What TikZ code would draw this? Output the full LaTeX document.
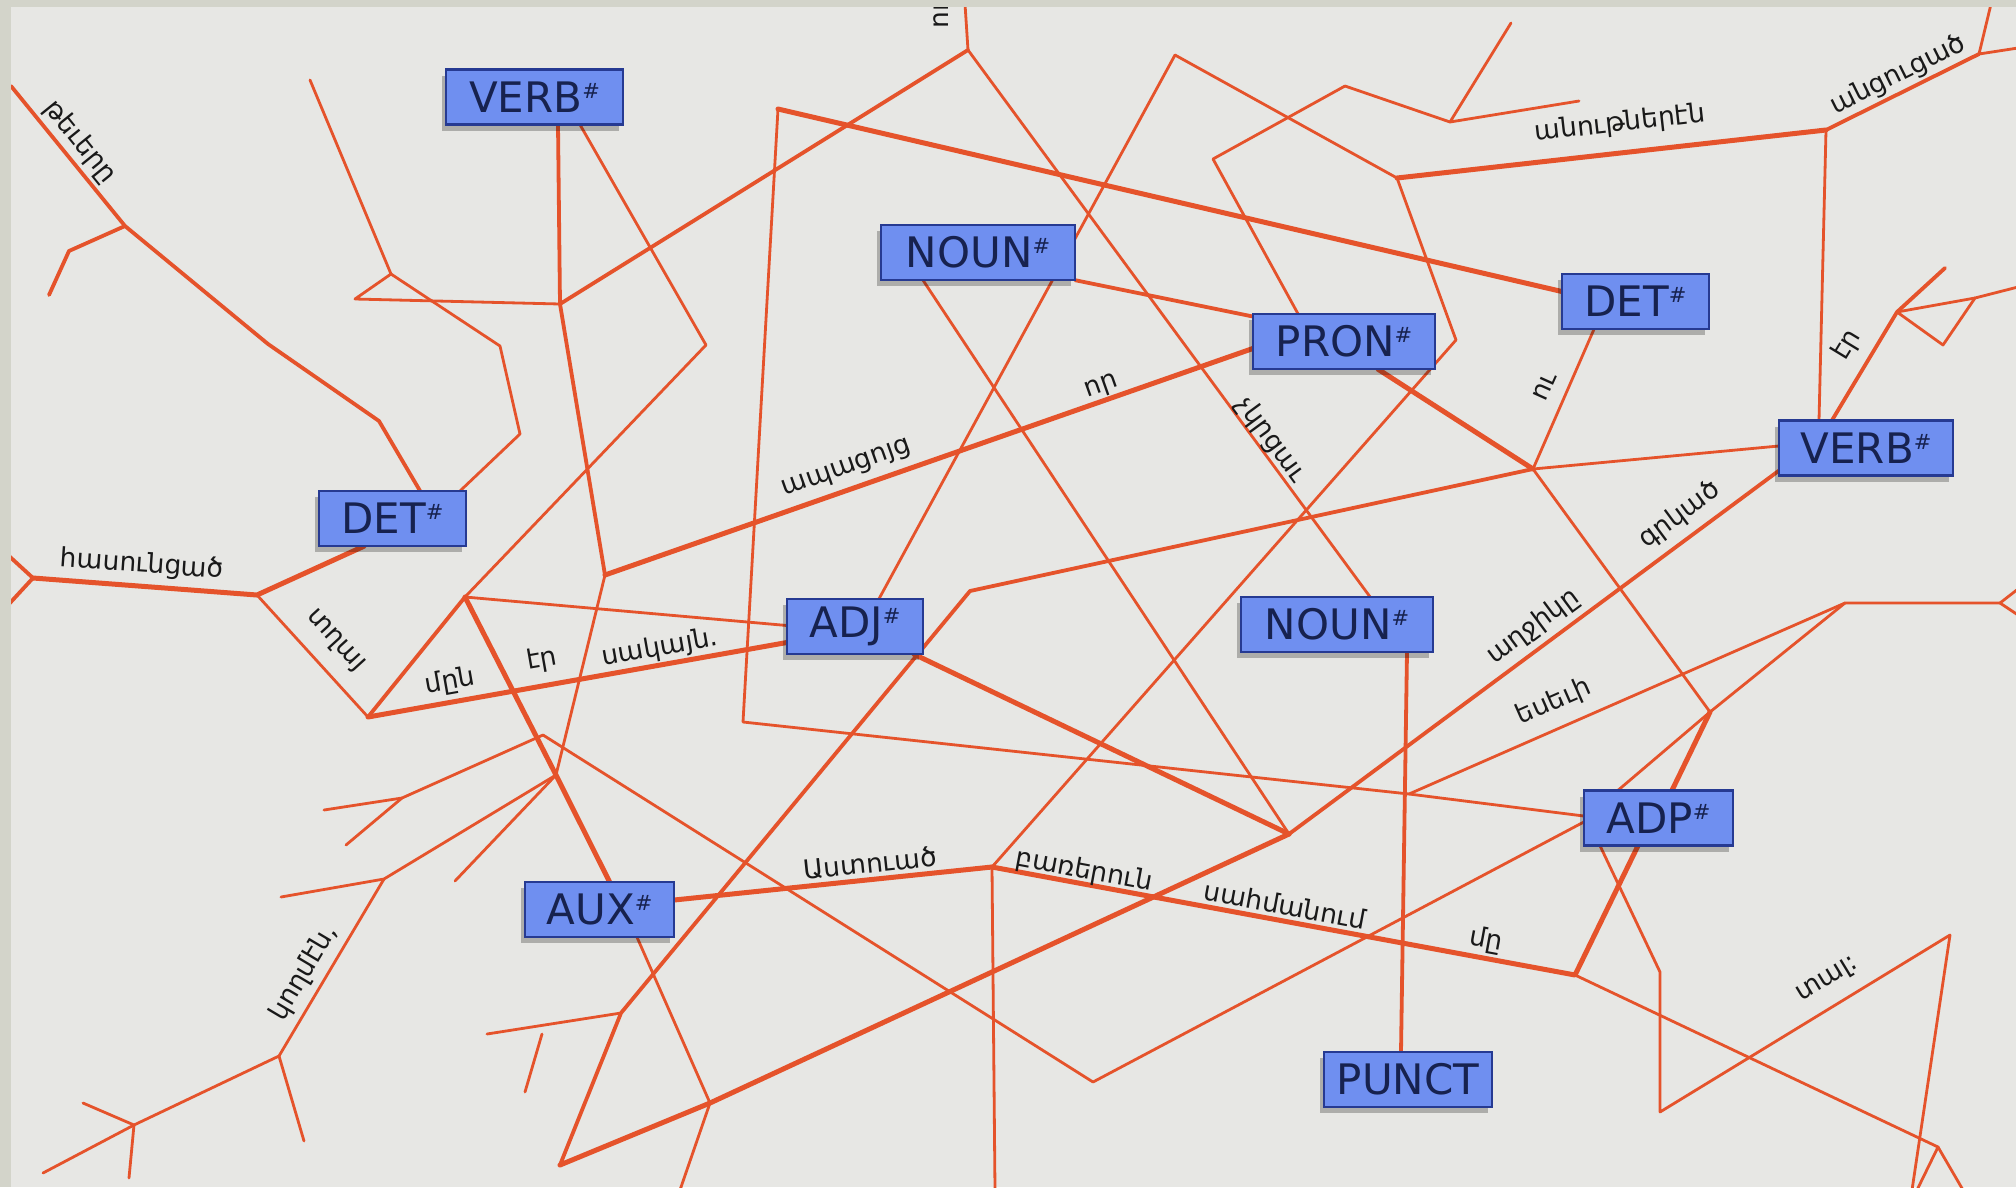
\documentclass[tikz,border=0pt]{standalone}
\usepackage{fontspec}
\setmainfont{DejaVu Sans}
\usetikzlibrary{shadows}
\definecolor{paper}{HTML}{E7E7E4}
\definecolor{strip}{HTML}{D3D4CA}
\definecolor{lineor}{HTML}{E5532B}
\definecolor{boxfill}{HTML}{6F8FF0}
\definecolor{boxborder}{HTML}{263A92}
\definecolor{boxtext}{HTML}{17224F}
\newcommand\mysharp{\raisebox{14pt}{\fontsize{21}{21}\selectfont\#}}
\begin{document}
\begin{tikzpicture}[x=1pt,y=-1pt,
  ln/.style={draw=lineor, line cap=round, line join=round},
  thk/.style={ln, line width=5pt},
  mid/.style={ln, line width=3.8pt},
  thn/.style={ln, line width=2.8pt},
  box/.style={draw=boxborder, line width=2.4pt, fill=boxfill, text=boxtext,
    minimum height=55pt, inner sep=0pt, font=\fontsize{42}{42}\selectfont,
    drop shadow={shadow xshift=-4pt, shadow yshift=-6pt, opacity=0.25, fill=black}},
  lab/.style={font=\fontsize{26.5}{26.5}\selectfont, text=black!90, inner sep=0pt}]
\useasboundingbox (0,0) rectangle (2016,1187);
\fill[paper] (0,0) rectangle (2016,1187);

\coordinate (c1) at (11,86);
\coordinate (c2) at (125,226);
\coordinate (c3) at (268,344);
\coordinate (c4) at (379,421);
\coordinate (c5) at (69,251);
\coordinate (c6) at (49,295);
\coordinate (c7) at (310,80);
\coordinate (c8) at (391,274);
\coordinate (c9) at (355,299);
\coordinate (c10) at (560,304);
\coordinate (c11) at (500,346);
\coordinate (c12) at (520,434);
\coordinate (c13) at (605,575);
\coordinate (c14) at (556,775);
\coordinate (a1) at (968,50);
\coordinate (a1t) at (965,4);
\coordinate (c15) at (706,345);
\coordinate (a6) at (465,597);
\coordinate (c17) at (368,717);
\coordinate (c18) at (257,595);
\coordinate (f1) at (33,578);
\coordinate (f1a) at (9,556);
\coordinate (f1b) at (9,604);
\coordinate (c19) at (384,879);
\coordinate (c20) at (281,897);
\coordinate (c21) at (279,1056);
\coordinate (c22) at (134,1125);
\coordinate (c23) at (43,1173);
\coordinate (c21a) at (304,1141);
\coordinate (c22a) at (83,1103);
\coordinate (c22b) at (129,1178);
\coordinate (c14a) at (455,881);
\coordinate (a7) at (543,735);
\coordinate (c24) at (402,798);
\coordinate (c24a) at (324,810);
\coordinate (c24b) at (346,845);
\coordinate (c25) at (1093,1082);
\coordinate (a2) at (778,109);
\coordinate (c26) at (743,722);
\coordinate (c27) at (1409,794);
\coordinate (a3) at (1175,55);
\coordinate (j) at (1397,178);
\coordinate (c28) at (1456,340);
\coordinate (b) at (992,867);
\coordinate (bb) at (995,1190);
\coordinate (c29) at (1826,130);
\coordinate (c30) at (1979,54);
\coordinate (c30a) at (1991,4);
\coordinate (c30b) at (2018,48);
\coordinate (p) at (1897,312);
\coordinate (p1) at (1945,268);
\coordinate (p2) at (1943,345);
\coordinate (p3) at (1975,298);
\coordinate (p4) at (2018,287);
\coordinate (a4) at (1345,86);
\coordinate (c31) at (1450,122);
\coordinate (c31a) at (1511,23);
\coordinate (c31b) at (1579,101);
\coordinate (c32) at (1213,159);
\coordinate (a8) at (1289,834);
\coordinate (c33) at (710,1103);
\coordinate (c34) at (560,1165);
\coordinate (c33a) at (680,1190);
\coordinate (k) at (1533,469);
\coordinate (a5) at (970,591);
\coordinate (c35) at (621,1013);
\coordinate (c35a) at (487,1034);
\coordinate (c35b) at (542,1034);
\coordinate (c35c) at (525,1092);
\coordinate (c36) at (1575,975);
\coordinate (c37) at (1938,1147);
\coordinate (c37a) at (1917,1190);
\coordinate (c37b) at (1963,1190);
\coordinate (d1) at (1660,972);
\coordinate (d2) at (1660,1112);
\coordinate (d3) at (1950,935);
\coordinate (d4) at (1912,1190);
\coordinate (e) at (1845,603);
\coordinate (e1) at (2000,603);
\coordinate (e2) at (2018,589);
\coordinate (e3) at (2018,615);
\coordinate (j2) at (1710,712);

% node frames used as anchors for the connectors
\begin{scope}[every node/.style={minimum height=55pt, inner sep=0pt}]
\node[minimum width=177pt] (verbL) at (534.5,97) {};
\node[minimum width=194pt] (nounT) at (978,252.5) {};
\node[minimum width=147pt] (detR) at (1635.5,301.5) {};
\node[minimum width=182pt] (pron) at (1344,341.5) {};
\node[minimum width=174pt] (verbR) at (1866,448) {};
\node[minimum width=147pt] (detL) at (392.5,518.5) {};
\node[minimum width=136pt] (adj) at (855,626.5) {};
\node[minimum width=192pt] (nounM) at (1337,624.5) {};
\node[minimum width=149pt] (adp) at (1658.5,818) {};
\node[minimum width=149pt] (aux) at (599.5,909.5) {};
\node[minimum width=168pt] (punct) at (1408,1079.5) {};
\end{scope}

% connectors
\draw[mid] (c1) -- (c2) -- (c3) -- (c4) -- ([xshift=27.5pt]detL.north);
\draw[mid] (c2) -- (c5) -- (c6);
\draw[thn] (c7) -- (c8) -- (c9) -- (c10);
\draw[thn] (c8) -- (c11) -- (c12) -- ([xshift=-6pt]detL.north east);
\draw[mid] ([xshift=23.5pt]verbL.south) -- (c10) -- (c13);
\draw[thn] (c13) -- (c14);
\draw[thk] (c13) -- ([yshift=-7pt]pron.west);
\draw[mid] (c10) -- (a1);
\draw[thn] (a1) -- (a1t);
\draw[thn] (a1) -- ([xshift=33pt]nounM.north);
\draw[thn] ([xshift=45.5pt]verbL.south) -- (c15) -- (a6);
\draw[mid] (a6) -- (c17);
\draw[thn] (a6) -- ([yshift=1pt]adj.west);
\draw[thk] (c17) -- ([yshift=-16pt]adj.west);
\draw[thn] (c18) -- (c17);
\draw[mid] (f1a) -- (f1) -- (f1b);
\draw[thk] (f1) -- (c18) -- ([xshift=-28.5pt]detL.south);
\draw[thk] (a6) -- (c14) -- ([xshift=10pt]aux.north);
\draw[thn] (c14) -- (c19) -- (c20);
\draw[thn] (c19) -- (c21) -- (c22) -- (c23);
\draw[thn] (c21) -- (c21a);
\draw[thn] (c22a) -- (c22) -- (c22b);
\draw[thn] (c14) -- (c14a);
\draw[thn] (a7) -- (c24) -- (c24a);
\draw[thn] (c24) -- (c24b);
\draw[thn] (a7) -- (c25) -- ([yshift=-4pt]adp.west);
\draw[thk] (a2) -- ([yshift=10pt]detR.west);
\draw[thn] (a2) -- (c26) -- (c27) -- ([yshift=2pt]adp.west);
\draw[thn] (a3) -- ([xshift=24pt]adj.north);
\draw[thn] (a3) -- (j);
\draw[thn] (j) -- (c28) -- (b);
\draw[thk] (j) -- (c29);
\draw[mid] (c29) -- (c30);
\draw[thn] (c30a) -- (c30) -- (c30b);
\draw[thn] (c29) -- ([xshift=-47pt]verbR.north);
\draw[mid] ([xshift=-34pt]verbR.north) -- (p) -- (p1);
\draw[thn] (p) -- (p2) -- (p3) -- (p4);
\draw[thn] (p) -- (p3);
\draw[thn] (a4) -- (c32) -- ([xshift=-46pt]pron.north);
\draw[thn] (a4) -- (c31);
\draw[thn] (c31a) -- (c31) -- (c31b);
\draw[mid] (nounT.south east) -- ([yshift=25pt]pron.west);
\draw[thn] ([xshift=-55pt]nounT.south) -- (a8);
\draw[thk] ([xshift=59pt]adj.south) -- (a8);
\draw[thk] (a8) -- (c33) -- (c34);
\draw[thn] (c33) -- (c33a);
\draw[thn] ([xshift=37.5pt]aux.south) -- (c33);
\draw[mid] (a8) -- ([yshift=5pt]verbR.south west);
\draw[thk] ([xshift=34pt]pron.south) -- (k);
\draw[thn] (k) -- ([xshift=-41.5pt]detR.south);
\draw[thn] (k) -- ([yshift=2pt]verbR.west);
\draw[mid] (k) -- (a5) -- (c35) -- (c34);
\draw[thn] (k) -- (j2);
\draw[thn] (c35) -- (c35a);
\draw[thn] (c35b) -- (c35c);
\draw[thk] ([yshift=9.5pt]aux.east) -- (b);
\draw[thn] (b) -- (bb);
\draw[thk] (b) -- (c36) -- ([xshift=-20.5pt]adp.south);
\draw[thn] (c36) -- (c37) -- (c37a);
\draw[thn] (c37) -- (c37b);
\draw[thn] ([xshift=-58.5pt]adp.south) -- (d1) -- (d2) -- (d3) -- (d4);
\draw[thn] (c27) -- (e) -- (e1);
\draw[thn] (e2) -- (e1) -- (e3);
\draw[thn] (e) -- (j2) -- ([xshift=-40.5pt]adp.north);
\draw[thk] (j2) -- ([xshift=13.5pt]adp.north);
\draw[mid] ([xshift=70pt]nounM.south) -- ([xshift=-7pt]punct.north);

% labels
\node[lab, rotate=-51] (l1) at (80,142) {թեւերը};
\node[lab, rotate=-4] (l2) at (142,565) {հասունցած};
\node[lab, rotate=-47.7] (l3) at (335,641) {տղայ};
\node[lab, rotate=10] (l4) at (450,682) {մըն};
\node[lab, rotate=10] (l5) at (542,660) {էր};
\node[lab, rotate=10] (l6) at (660,648) {սակայն.};
\node[lab, rotate=59.3] (l7) at (304,973) {կողմէն,};
\node[lab, rotate=19.5] (l8) at (847,469) {ապացոյց};
\node[lab, rotate=19.5] (l9) at (1102,387) {որ};
\node[lab, rotate=-53.7] (l10) at (1271,440) {չկրցաւ};
\node[lab, rotate=90] (l11) at (941,14) {ու};
\node[lab, rotate=6.4] (l12) at (1620,124) {անութներէն};
\node[lab, rotate=26.4] (l13) at (1898,75) {անցուցած};
\node[lab, rotate=65.8] (l14) at (1545,387) {ու};
\node[lab, rotate=58.7] (l15) at (1847,345) {էր};
\node[lab, rotate=36.5] (l16) at (1680,515) {գրկած};
\node[lab, rotate=36.5] (l17) at (1533,627) {աղջիկը};
\node[lab, rotate=23.7] (l18) at (1554,702) {եսեւի};
\node[lab, rotate=6] (l19) at (870,863) {Աստուած};
\node[lab, rotate=-10.5] (l20) at (1084,871) {բառերուն};
\node[lab, rotate=-10.5] (l21) at (1285,905) {սահմանում};
\node[lab, rotate=-10.5] (l22) at (1486,940) {մը};
\node[lab, rotate=31.4] (l23) at (1828,980) {տալ:};

% boxes
\node[box, minimum width=177pt] (bverbL) at (verbL) {VERB\mysharp};
\node[box, minimum width=194pt] (bnounT) at (nounT) {NOUN\mysharp};
\node[box, minimum width=147pt] (bdetR) at (detR) {DET\mysharp};
\node[box, minimum width=182pt] (bpron) at (pron) {PRON\mysharp};
\node[box, minimum width=174pt] (bverbR) at (verbR) {VERB\mysharp};
\node[box, minimum width=147pt] (bdetL) at (detL) {DET\mysharp};
\node[box, minimum width=136pt] (badj) at (adj) {ADJ\mysharp};
\node[box, minimum width=192pt] (bnounM) at (nounM) {NOUN\mysharp};
\node[box, minimum width=149pt] (badp) at (adp) {ADP\mysharp};
\node[box, minimum width=149pt] (baux) at (aux) {AUX\mysharp};
\node[box, minimum width=168pt] (bpunct) at (punct) {PUNCT};

% paper border strips
\fill[strip] (0,0) rectangle (2016,7);
\fill[strip] (0,0) rectangle (11,1187);
\end{tikzpicture}
\end{document}
